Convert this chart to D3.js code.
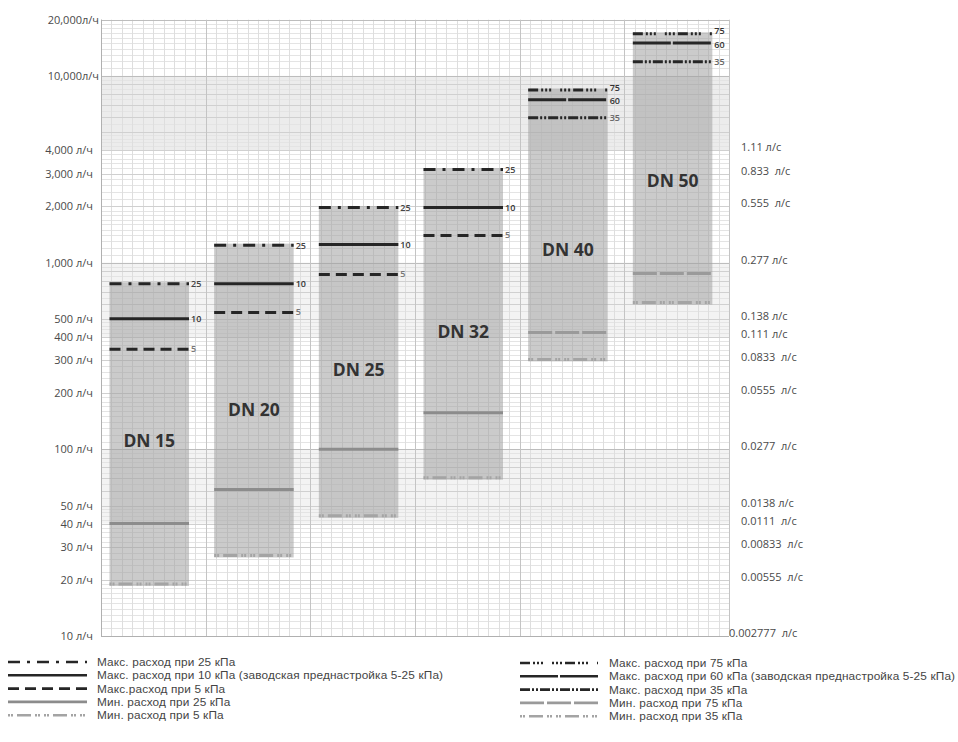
<!DOCTYPE html>
<html><head><meta charset="utf-8">
<script src="https://cdn.jsdelivr.net/npm/d3@7"></script>
<style>
html,body{margin:0;padding:0;background:#fff;}
svg{display:block;font-family:"Open Sans","Noto Sans",sans-serif;}
</style></head>
<body><svg id="chart" width="958" height="742"></svg>
<script>
// ---------- DATA ----------
const categories = ["DN 15", "DN 20", "DN 25", "DN 32", "DN 40", "DN 50"];
// low-pressure range valves (DN15–DN32), л/ч
const maxFlow25kPa = [770, 1240, 1970, 3150, null, null];
const maxFlow10kPa = [500, 770, 1250, 1970, null, null];
const maxFlow5kPa  = [343, 540, 863, 1395, null, null];
const minFlow25kPa = [40, 61, 100, 157, null, null];
const minFlow5kPa  = [19, 27, 44, 70.5, null, null];
// high-pressure range valves (DN40–DN50), л/ч
const maxFlow75kPa = [null, null, null, null, 8400, 16800];
const maxFlow60kPa = [null, null, null, null, 7450, 15000];
const maxFlow35kPa = [null, null, null, null, 5960, 11900];
const minFlow75kPa = [null, null, null, null, 422, 873];
const minFlow35kPa = [null, null, null, null, 303, 611];

const leftTickValues = [20000, 10000, 4000, 3000, 2000, 1000, 500, 400, 300, 200, 100, 50, 40, 30, 20, 10];
const leftTickLabels = ["20,000л/ч", "10,000л/ч", "4,000 л/ч", "3,000 л/ч", "2,000 л/ч", "1,000 л/ч", "500 л/ч", "400 л/ч", "300 л/ч", "200 л/ч", "100 л/ч", "50 л/ч", "40 л/ч", "30 л/ч", "20 л/ч", "10 л/ч"];
const rightTickValues = [4000, 3000, 2000, 1000, 500, 400, 300, 200, 100, 50, 40, 30, 20, 10];
const rightTickLabels = ["1.11 л/с", "0.833  л/с", "0.555  л/с", "0.277 л/с", "0.138 л/с", "0.111 л/с", "0.0833  л/с", "0.0555  л/с", "0.0277  л/с", "0.0138 л/с", "0.0111  л/с", "0.00833  л/с", "0.00555  л/с", "0.002777  л/с"];

const legendLeft = [
  {key: "max25", text: "Макс. расход при 25 кПа"},
  {key: "max10", text: "Макс. расход при 10 кПа (заводская преднастройка 5-25 кПа)"},
  {key: "max5",  text: "Макс.расход при 5 кПа"},
  {key: "min25", text: "Мин. расход при 25 кПа"},
  {key: "min5",  text: "Мин. расход при 5 кПа"}
];
const legendRight = [
  {key: "max75", text: "Макс. расход при 75 кПа"},
  {key: "max60", text: "Макс. расход при 60 кПа (заводская преднастройка 5-25 кПа)"},
  {key: "max35", text: "Макс. расход при 35 кПа"},
  {key: "min75", text: "Мин. расход при 75 кПа"},
  {key: "min35", text: "Мин. расход при 35 кПа"}
];

// ---------- STYLES ----------
const seriesList = [
  {key: "max25", values: maxFlow25kPa, label: "25", color: "#262626", width: 3, dash: "12,7,3,7", labelColor: "#444", labelDy: 0},
  {key: "max10", values: maxFlow10kPa, label: "10", color: "#262626", width: 3, dash: null, labelColor: "#333", labelDy: 0},
  {key: "max5",  values: maxFlow5kPa,  label: "5",  color: "#262626", width: 3, dash: "11,6", labelColor: "#777", labelDy: -1},
  {key: "min25", values: minFlow25kPa, label: "",   color: "#8c8c8c", width: 3, dash: null},
  {key: "min5",  values: minFlow5kPa,  label: "",   color: "#a4a4a4", width: 3, dash: "2,1,2,4,14,4,2,1,2,4"},
  {key: "max75", values: maxFlow75kPa, label: "75", color: "#262626", width: 3, dash: "10,3,2,2,2,2,2,9,2,2,2,2,2,3", labelColor: "#333", labelDy: -3},
  {key: "max60", values: maxFlow60kPa, label: "60", color: "#262626", width: 3, dash: "38,2", labelColor: "#333", labelDy: 1},
  {key: "max35", values: maxFlow35kPa, label: "35", color: "#262626", width: 3, dash: "10,2,2,2,2,2", labelColor: "#666", labelDy: 0},
  {key: "min75", values: minFlow75kPa, label: "",   color: "#9a9a9a", width: 3, dash: "24,3"},
  {key: "min35", values: minFlow35kPa, label: "",   color: "#a4a4a4", width: 3, dash: "2,1,2,4,14,4,2,1,2,4"}
];
const styleByKey = Object.fromEntries(seriesList.map(s => [s.key, s]));

// ---------- SCALES ----------
const svg = d3.select("#chart");
const plot = {left: 101, right: 729, top: 19.7, bottom: 636};
const y = d3.scaleLog().domain([10, 20000]).range([plot.bottom, plot.top]);
const x = d3.scaleBand().domain(categories).range([plot.left, plot.right]).padding(0);
const bw = x.bandwidth();
const barOffset = 8.5, barWidth = 79.5;

// ---------- BACKGROUND BANDS ----------
const bandRanges = [[4000, 10000], [400, 1000], [40, 100]];
const bandFill = ["#ececec", "#f3f3f3", "#f3f3f3"];
svg.append("g").selectAll("rect").data(bandRanges).join("rect")
  .attr("x", plot.left).attr("width", plot.right - plot.left)
  .attr("y", d => y(d[1])).attr("height", d => y(d[0]) - y(d[1]))
  .attr("fill", (d, i) => bandFill[i]);

// ---------- GRID ----------
const grid = svg.append("g");
const fineVals = [], midVals = [], decVals = [];
[10, 100, 1000, 10000].forEach(dec => {
  for (let m = 1; m < 2; m += 0.1) { const v = +(m.toFixed(1)) * dec; if (v <= 20000) fineVals.push(v); }
  for (let m = 2; m < 5; m += 0.2) { const v = +(m.toFixed(1)) * dec; if (v <= 20000) fineVals.push(v); }
  for (let m = 5; m < 10; m += 0.5) { const v = +(m.toFixed(1)) * dec; if (v <= 20000) fineVals.push(v); }
  for (let m = 2; m < 10; m++) { const v = m * dec; if (v <= 20000) midVals.push(v); }
  decVals.push(dec);
});
decVals.push(20000);
const vMinor = [];
categories.forEach(c => { for (let k = 1; k < 10; k++) vMinor.push(x(c) + bw * k / 10); });
grid.selectAll(".fh").data(fineVals).join("line")
  .attr("x1", plot.left).attr("x2", plot.right)
  .attr("y1", d => Math.round(y(d)) + 0.5).attr("y2", d => Math.round(y(d)) + 0.5)
  .attr("stroke", "#e4e4e4").attr("stroke-width", 1);
grid.selectAll(".vm").data(vMinor).join("line")
  .attr("x1", d => Math.round(d) + 0.5).attr("x2", d => Math.round(d) + 0.5)
  .attr("y1", plot.top).attr("y2", plot.bottom)
  .attr("stroke", "#dedede").attr("stroke-width", 1);
grid.selectAll(".mh").data(midVals).join("line")
  .attr("x1", plot.left).attr("x2", plot.right)
  .attr("y1", d => Math.round(y(d)) + 0.5).attr("y2", d => Math.round(y(d)) + 0.5)
  .attr("stroke", "#d0d0d0").attr("stroke-width", 1);
grid.selectAll(".dh").data(decVals).join("line")
  .attr("x1", plot.left).attr("x2", plot.right)
  .attr("y1", d => Math.round(y(d)) + 0.5).attr("y2", d => Math.round(y(d)) + 0.5)
  .attr("stroke", "#bdbdbd").attr("stroke-width", 1);
const vMajor = categories.map(c => x(c)).concat([plot.right]);
grid.selectAll(".vM").data(vMajor).join("line")
  .attr("x1", d => Math.round(d) + 0.5).attr("x2", d => Math.round(d) + 0.5)
  .attr("y1", plot.top).attr("y2", plot.bottom)
  .attr("stroke", "#c4c4c4").attr("stroke-width", 1);
grid.append("line").attr("x1", plot.left).attr("x2", plot.right)
  .attr("y1", plot.bottom + 0.5).attr("y2", plot.bottom + 0.5).attr("stroke", "#b0b0b0");
grid.append("line").attr("x1", plot.left + 0.5).attr("x2", plot.left + 0.5)
  .attr("y1", plot.top).attr("y2", plot.bottom).attr("stroke", "#b0b0b0");

// ---------- BARS ----------
const barData = categories.map((c, i) => {
  const vals = seriesList.map(s => s.values[i]).filter(v => v != null);
  return {cat: c, i, max: d3.max(vals), min: d3.min(vals)};
});
svg.append("g").selectAll("rect").data(barData).join("rect")
  .attr("x", d => x(d.cat) + barOffset).attr("width", barWidth)
  .attr("y", d => y(d.max) - 1.5).attr("height", d => y(d.min) - y(d.max) + 3.5)
  .attr("fill", "#a0a0a0").attr("fill-opacity", 0.55);

// ---------- SERIES LINES ----------
const lineG = svg.append("g");
seriesList.forEach(s => {
  const pts = categories.map((c, i) => ({c, v: s.values[i]})).filter(d => d.v != null);
  lineG.selectAll(null).data(pts).join("line")
    .attr("x1", d => x(d.c) + barOffset).attr("x2", d => x(d.c) + barOffset + barWidth)
    .attr("y1", d => y(d.v)).attr("y2", d => y(d.v))
    .attr("stroke", s.color).attr("stroke-width", s.width)
    .attr("stroke-dasharray", s.dash);
  if (s.label) {
    lineG.selectAll(null).data(pts).join("text")
      .attr("x", d => x(d.c) + barOffset + barWidth + 2)
      .attr("y", d => y(d.v) + s.labelDy)
      .attr("dominant-baseline", "central")
      .attr("font-size", 9).attr("font-weight", 600).attr("fill", s.labelColor)
      .text(s.label);
  }
});

// ---------- DN LABELS ----------
const labelDy = [6, 9, 7, 7, 24, 12];
svg.append("g").selectAll("text").data(barData).join("text")
  .attr("x", d => x(d.cat) + barOffset + barWidth / 2)
  .attr("y", d => (y(d.max) + y(d.min)) / 2 + labelDy[d.i])
  .attr("text-anchor", "middle").attr("dominant-baseline", "central")
  .attr("font-size", 17.5).attr("font-weight", 700).attr("fill", "#333")
  .text(d => d.cat);

// ---------- AXES ----------
const leftAxis = d3.axisLeft(y).tickValues(leftTickValues)
  .tickFormat((d, i) => leftTickLabels[i]).tickSize(0).tickPadding(8);
const gl = svg.append("g").attr("transform", `translate(${plot.left},0)`).call(leftAxis);
gl.select(".domain").remove();
gl.selectAll("text").attr("font-size", 11).attr("fill", "#4a4a4a")
  .attr("font-family", "'Open Sans','Noto Sans',sans-serif")
  .attr("dx", (d, i) => i < 2 ? 6 : 0);

const rightAxis = d3.axisRight(y).tickValues(rightTickValues)
  .tickFormat((d, i) => rightTickLabels[i]).tickSize(0).tickPadding(12);
const gr = svg.append("g").attr("transform", `translate(${plot.right},0)`).call(rightAxis);
gr.select(".domain").remove();
gr.selectAll("text").attr("font-size", 11).attr("fill", "#4a4a4a")
  .attr("font-family", "'Open Sans','Noto Sans',sans-serif")
  .style("white-space", "pre")
  .attr("dy", "0.05em")
  .attr("dx", (d, i) => i === rightTickValues.length - 1 ? -12 : 0);

// ---------- LEGEND ----------
function drawLegend(items, x0, x1, tx, y0, step) {
  const g = svg.append("g");
  items.forEach((it, i) => {
    const s = styleByKey[it.key];
    const yy = y0 + i * step;
    g.append("line").attr("x1", x0).attr("x2", x1).attr("y1", yy).attr("y2", yy)
      .attr("stroke", s.color).attr("stroke-width", 2.6)
      .attr("stroke-dasharray", s.dash);
    g.append("text").attr("x", tx).attr("y", yy).attr("dominant-baseline", "central")
      .attr("font-family", "'Liberation Sans',Arial,sans-serif")
      .attr("letter-spacing", 0.15)
      .attr("font-size", 11.8).attr("fill", "#444").text(it.text);
  });
}
drawLegend(legendLeft, 8, 87, 97, 662, 13.3);
drawLegend(legendRight, 520, 598, 609, 663, 13.3);
</script></body></html>
